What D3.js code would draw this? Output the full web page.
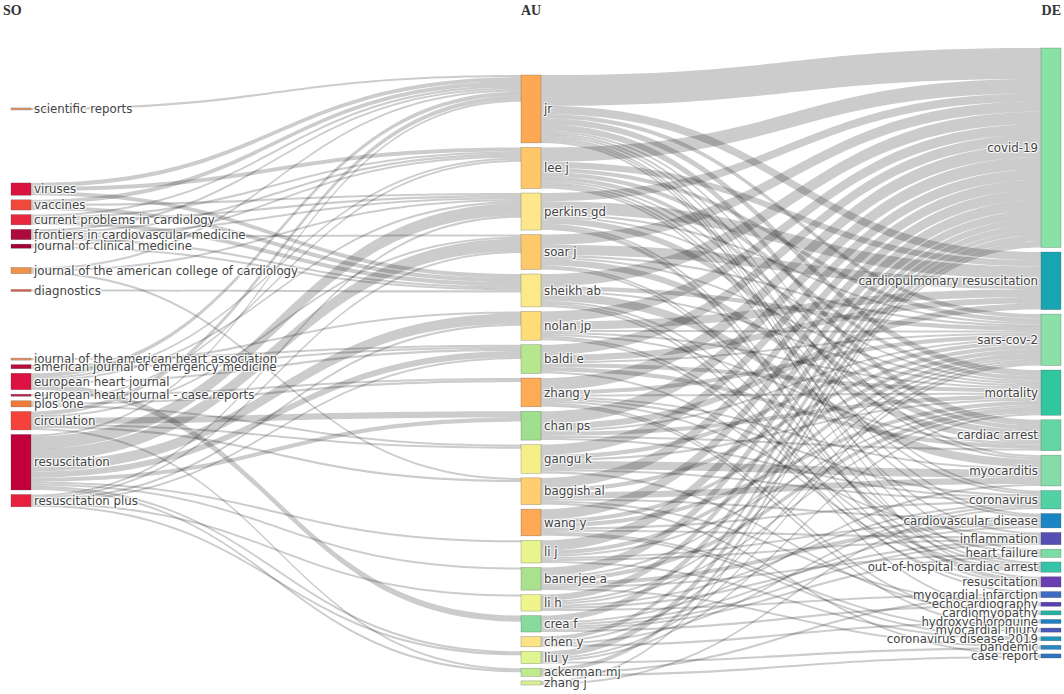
<!DOCTYPE html>
<html>
<head>
<meta charset="utf-8">
<script src="https://cdn.jsdelivr.net/npm/d3@7"></script>
<style>
  body { margin: 0; background: #fff; }
  .label {
    font-family: "DejaVu Sans", Verdana, sans-serif;
    font-size: 11.8px;
    fill: #444;
    text-shadow: 1px 1px 1px #fff, 1px -1px 1px #fff, -1px 1px 1px #fff, -1px -1px 1px #fff;
  }
  .field { font-family: "Liberation Serif", serif; font-weight: bold; font-size: 14px; fill: #333; }
</style>
</head>
<body>
<div id="chart"></div>
<script>
// three fields: sources (SO), authors (AU), keywords (DE)
var fields = ["SO", "AU", "DE"];

var soNames = ["scientific reports", "viruses", "vaccines", "current problems in cardiology",
  "frontiers in cardiovascular medicine", "journal of clinical medicine",
  "journal of the american college of cardiology", "diagnostics",
  "journal of the american heart association", "american journal of emergency medicine",
  "european heart journal", "european heart journal - case reports", "plos one",
  "circulation", "resuscitation", "resuscitation plus"];
var soColors = ["#e39a6b", "#d8143e", "#f1483c", "#e7293f", "#ad0b3c", "#a1003a", "#f0924e", "#d9614a",
  "#e8906a", "#b70f3c", "#db1242", "#b8214a", "#f07a3a", "#f5433c", "#c1003b", "#e8203f"];

var auNames = ["jr", "lee j", "perkins gd", "soar j", "sheikh ab", "nolan jp", "baldi e", "zhang y",
  "chan ps", "gangu k", "baggish al", "wang y", "li j", "banerjee a", "li h", "crea f", "chen y",
  "liu y", "ackerman mj", "zhang j"];
var auColors = ["#fea853", "#fec86a", "#fde78a", "#fec96b", "#fde98a", "#fedc78", "#b6e78c", "#fdac56",
  "#9fdf8e", "#f5ef88", "#fece70", "#fda955", "#e8f58e", "#a9e18e", "#eff48c", "#86db9c", "#fde385",
  "#dff590", "#c0ea8e", "#d7f192"];

var deNames = ["covid-19", "cardiopulmonary resuscitation", "sars-cov-2", "mortality", "cardiac arrest",
  "myocarditis", "coronavirus", "cardiovascular disease", "inflammation", "heart failure",
  "out-of-hospital cardiac arrest", "resuscitation", "myocardial infarction", "echocardiography",
  "cardiomyopathy", "hydroxychloroquine", "myocardial injury", "coronavirus disease 2019",
  "pandemic", "case report"];
var deColors = ["#88e1a5", "#17a5b1", "#8be0a7", "#2fc6a0", "#64d6a4", "#84dda8", "#52d2a4", "#1b84c4",
  "#5551b3", "#7bdca4", "#35c4a8", "#6a3db3", "#3d6cc2", "#5b3fb2", "#22b3a4", "#1c80c2", "#4757bc",
  "#1e97b8", "#2b86c4", "#2d74c2"];

// source -> author (estimated co-occurrence counts)
var soAuLinks = [
  ["scientific reports", "jr", 1],
  ["viruses", "sheikh ab", 2], ["viruses", "jr", 2], ["viruses", "lee j", 2],
  ["vaccines", "sheikh ab", 2], ["vaccines", "jr", 2], ["vaccines", "perkins gd", 1],
  ["current problems in cardiology", "sheikh ab", 2], ["current problems in cardiology", "perkins gd", 1],
  ["current problems in cardiology", "lee j", 1], ["current problems in cardiology", "jr", 1],
  ["frontiers in cardiovascular medicine", "sheikh ab", 1], ["frontiers in cardiovascular medicine", "jr", 1],
  ["frontiers in cardiovascular medicine", "lee j", 1], ["frontiers in cardiovascular medicine", "perkins gd", 1],
  ["frontiers in cardiovascular medicine", "soar j", 1],
  ["journal of clinical medicine", "sheikh ab", 1], ["journal of clinical medicine", "lee j", 1],
  ["journal of the american college of cardiology", "jr", 1],
  ["journal of the american college of cardiology", "perkins gd", 1],
  ["journal of the american college of cardiology", "baggish al", 1],
  ["diagnostics", "sheikh ab", 1],
  ["journal of the american heart association", "baldi e", 1],
  ["american journal of emergency medicine", "baldi e", 1], ["american journal of emergency medicine", "nolan jp", 1],
  ["european heart journal", "crea f", 3], ["european heart journal", "jr", 2], ["european heart journal", "lee j", 1],
  ["european heart journal", "baldi e", 1], ["european heart journal", "perkins gd", 1],
  ["european heart journal - case reports", "zhang y", 1],
  ["plos one", "lee j", 1], ["plos one", "zhang y", 1], ["plos one", "gangu k", 1],
  ["circulation", "chan ps", 3], ["circulation", "jr", 2], ["circulation", "soar j", 1],
  ["circulation", "gangu k", 1], ["circulation", "baggish al", 1], ["circulation", "ackerman mj", 1],
  ["resuscitation", "perkins gd", 6], ["resuscitation", "soar j", 6], ["resuscitation", "nolan jp", 5],
  ["resuscitation", "baldi e", 3], ["resuscitation", "chan ps", 2], ["resuscitation", "jr", 1],
  ["resuscitation", "banerjee a", 1], ["resuscitation", "li j", 1], ["resuscitation", "liu y", 1],
  ["resuscitation", "ackerman mj", 1],
  ["resuscitation plus", "baldi e", 1], ["resuscitation plus", "perkins gd", 1], ["resuscitation plus", "soar j", 1],
  ["resuscitation plus", "nolan jp", 1], ["resuscitation plus", "li h", 1], ["resuscitation plus", "liu y", 1]
];

// author -> keyword
var auDeLinks = [
  ["jr", "covid-19", 15], ["jr", "cardiopulmonary resuscitation", 4], ["jr", "cardiac arrest", 3],
  ["jr", "mortality", 3], ["jr", "sars-cov-2", 2], ["jr", "out-of-hospital cardiac arrest", 1],
  ["jr", "myocarditis", 1], ["jr", "resuscitation", 1], ["jr", "heart failure", 1],
  ["jr", "coronavirus", 1], ["jr", "cardiovascular disease", 1],
  ["lee j", "covid-19", 7], ["lee j", "sars-cov-2", 2], ["lee j", "cardiopulmonary resuscitation", 3],
  ["lee j", "mortality", 2], ["lee j", "cardiac arrest", 2], ["lee j", "myocarditis", 1],
  ["lee j", "coronavirus", 1], ["lee j", "cardiovascular disease", 1], ["lee j", "inflammation", 1],
  ["perkins gd", "cardiopulmonary resuscitation", 6], ["perkins gd", "covid-19", 4], ["perkins gd", "cardiac arrest", 3],
  ["perkins gd", "out-of-hospital cardiac arrest", 1], ["perkins gd", "resuscitation", 2],
  ["perkins gd", "mortality", 1], ["perkins gd", "sars-cov-2", 1],
  ["soar j", "cardiopulmonary resuscitation", 5], ["soar j", "covid-19", 5], ["soar j", "cardiac arrest", 3],
  ["soar j", "resuscitation", 1], ["soar j", "out-of-hospital cardiac arrest", 1], ["soar j", "mortality", 1],
  ["soar j", "sars-cov-2", 1],
  ["sheikh ab", "covid-19", 6], ["sheikh ab", "myocarditis", 4], ["sheikh ab", "sars-cov-2", 2],
  ["sheikh ab", "mortality", 1], ["sheikh ab", "heart failure", 1], ["sheikh ab", "myocardial infarction", 1],
  ["sheikh ab", "cardiomyopathy", 1],
  ["nolan jp", "cardiopulmonary resuscitation", 4], ["nolan jp", "covid-19", 5], ["nolan jp", "cardiac arrest", 1],
  ["nolan jp", "out-of-hospital cardiac arrest", 1], ["nolan jp", "resuscitation", 1], ["nolan jp", "mortality", 1],
  ["nolan jp", "sars-cov-2", 1],
  ["baldi e", "covid-19", 5], ["baldi e", "cardiac arrest", 2], ["baldi e", "cardiopulmonary resuscitation", 3],
  ["baldi e", "mortality", 2], ["baldi e", "sars-cov-2", 1], ["baldi e", "out-of-hospital cardiac arrest", 1],
  ["zhang y", "covid-19", 6], ["zhang y", "sars-cov-2", 2], ["zhang y", "myocarditis", 1], ["zhang y", "mortality", 1],
  ["zhang y", "inflammation", 1], ["zhang y", "coronavirus", 1], ["zhang y", "myocardial injury", 1],
  ["zhang y", "hydroxychloroquine", 1],
  ["chan ps", "covid-19", 6], ["chan ps", "cardiac arrest", 1], ["chan ps", "cardiopulmonary resuscitation", 3],
  ["chan ps", "mortality", 2], ["chan ps", "sars-cov-2", 1], ["chan ps", "coronavirus", 1],
  ["gangu k", "covid-19", 5], ["gangu k", "myocarditis", 4], ["gangu k", "sars-cov-2", 2], ["gangu k", "mortality", 1],
  ["gangu k", "coronavirus", 1], ["gangu k", "cardiomyopathy", 1],
  ["baggish al", "covid-19", 5], ["baggish al", "myocarditis", 3], ["baggish al", "sars-cov-2", 2],
  ["baggish al", "cardiovascular disease", 1], ["baggish al", "echocardiography", 1], ["baggish al", "case report", 1],
  ["wang y", "covid-19", 5], ["wang y", "sars-cov-2", 2], ["wang y", "mortality", 2], ["wang y", "coronavirus", 1],
  ["wang y", "inflammation", 1], ["wang y", "myocardial injury", 1], ["wang y", "coronavirus disease 2019", 1],
  ["li j", "covid-19", 5], ["li j", "sars-cov-2", 2], ["li j", "mortality", 1], ["li j", "inflammation", 1],
  ["li j", "cardiovascular disease", 1], ["li j", "coronavirus disease 2019", 1],
  ["banerjee a", "covid-19", 4], ["banerjee a", "mortality", 2], ["banerjee a", "cardiovascular disease", 2],
  ["banerjee a", "heart failure", 1], ["banerjee a", "sars-cov-2", 1], ["banerjee a", "pandemic", 1],
  ["li h", "covid-19", 3], ["li h", "sars-cov-2", 1], ["li h", "mortality", 1], ["li h", "coronavirus", 1],
  ["li h", "inflammation", 1], ["li h", "myocardial infarction", 1],
  ["crea f", "covid-19", 3], ["crea f", "myocarditis", 1], ["crea f", "cardiovascular disease", 1],
  ["crea f", "inflammation", 1], ["crea f", "heart failure", 1], ["crea f", "echocardiography", 1],
  ["chen y", "covid-19", 2], ["chen y", "sars-cov-2", 1], ["chen y", "coronavirus", 1], ["chen y", "hydroxychloroquine", 1],
  ["liu y", "covid-19", 3], ["liu y", "sars-cov-2", 1], ["liu y", "mortality", 1], ["liu y", "pandemic", 1],
  ["ackerman mj", "covid-19", 2], ["ackerman mj", "myocardial infarction", 1], ["ackerman mj", "case report", 1],
  ["zhang j", "covid-19", 1], ["zhang j", "coronavirus", 1]
];

var width = 1064, height = 694;
var nodeWidth = 20, nodePad = 4.5;
var plotTop = 48, plotBottom = 685, columnHeight = 610;
// how each column sits in the plot area
var columnAlign = {SO: "relax", AU: "bottom", DE: "top"};

var colX = d3.scaleOrdinal().domain(fields).range([11, 521, 1041]);

function makeNodes(field, names, colors) {
  return names.map(function(n, i) {
    return {id: field + "|" + n, name: n, field: field, color: colors[i], sourceLinks: [], targetLinks: []};
  });
}
var columns = {
  SO: makeNodes("SO", soNames, soColors),
  AU: makeNodes("AU", auNames, auColors),
  DE: makeNodes("DE", deNames, deColors)
};
var byId = {};
fields.forEach(function(f) { columns[f].forEach(function(n) { byId[n.id] = n; }); });

var links = [];
function addLinks(rows, sf, tf) {
  rows.forEach(function(r) {
    var l = {source: byId[sf + "|" + r[0]], target: byId[tf + "|" + r[1]], value: r[2]};
    l.source.sourceLinks.push(l);
    l.target.targetLinks.push(l);
    links.push(l);
  });
}
addLinks(soAuLinks, "SO", "AU");
addLinks(auDeLinks, "AU", "DE");

fields.forEach(function(f) {
  columns[f].forEach(function(n) {
    n.value = Math.max(d3.sum(n.sourceLinks, function(l) { return l.value; }),
                       d3.sum(n.targetLinks, function(l) { return l.value; }));
  });
});

var maxTotal = d3.max(fields, function(f) { return d3.sum(columns[f], function(n) { return n.value; }); });
var maxCount = d3.max(fields, function(f) { return columns[f].length; });
var hScale = d3.scaleLinear().domain([0, maxTotal]).range([0, columnHeight - (maxCount - 1) * nodePad]);

function stack(nodes, start) {
  var y = start;
  nodes.forEach(function(n) { n.y0 = y; n.y1 = y + hScale(n.value); y = n.y1 + nodePad; });
}
function center(n) { return (n.y0 + n.y1) / 2; }

fields.forEach(function(f) {
  var nodes = columns[f];
  nodes.forEach(function(n) { n.x0 = colX(f); n.x1 = n.x0 + nodeWidth; });
  var total = d3.sum(nodes, function(n) { return hScale(n.value); }) + (nodes.length - 1) * nodePad;
  if (columnAlign[f] === "top") stack(nodes, plotTop);
  if (columnAlign[f] === "bottom") stack(nodes, plotBottom - total);
});

// sources sit near the weighted centre of their authors, keeping their order
(function relaxSources() {
  var nodes = columns.SO, prev = plotTop - nodePad;
  nodes.forEach(function(n) {
    var want = d3.sum(n.sourceLinks, function(l) { return center(l.target) * l.value; }) /
               d3.sum(n.sourceLinks, function(l) { return l.value; });
    var h = hScale(n.value);
    n.y0 = Math.max(want - h / 2, prev + nodePad);
    n.y1 = n.y0 + h;
    prev = n.y1;
  });
  var over = nodes[nodes.length - 1].y1 - plotBottom;
  for (var i = nodes.length - 1; i >= 0 && over > 0; i--) {
    nodes[i].y0 -= over; nodes[i].y1 -= over;
    over = i > 0 ? nodes[i - 1].y1 + nodePad - nodes[i].y0 : 0;
  }
})();

// link attachment points
fields.forEach(function(f) {
  columns[f].forEach(function(n) {
    n.sourceLinks.sort(function(a, b) { return center(a.target) - center(b.target); });
    n.targetLinks.sort(function(a, b) { return center(a.source) - center(b.source); });
    var sy = n.y0, ty = n.y0;
    n.sourceLinks.forEach(function(l) { l.w = hScale(l.value); l.sy = sy + l.w / 2; sy += l.w; });
    n.targetLinks.forEach(function(l) { l.w = hScale(l.value); l.ty = ty + l.w / 2; ty += l.w; });
  });
});

function linkPath(l) {
  var x0 = l.source.x1, x1 = l.target.x0, xm = (x0 + x1) / 2, h = l.w / 2;
  return "M" + x0 + "," + (l.sy - h) +
    "C" + xm + "," + (l.sy - h) + " " + xm + "," + (l.ty - h) + " " + x1 + "," + (l.ty - h) +
    "L" + x1 + "," + (l.ty + h) +
    "C" + xm + "," + (l.ty + h) + " " + xm + "," + (l.sy + h) + " " + x0 + "," + (l.sy + h) + "Z";
}

var svg = d3.select("#chart").append("svg")
  .attr("width", width)
  .attr("height", height);

svg.append("g").selectAll("path")
  .data(links)
  .enter().append("path")
  .attr("d", linkPath)
  .style("fill", "rgba(0,0,0,0.2)");

var allNodes = [].concat(columns.SO, columns.AU, columns.DE);

var node = svg.append("g").selectAll("g")
  .data(allNodes)
  .enter().append("g");

node.append("rect")
  .attr("x", function(d) { return d.x0; })
  .attr("y", function(d) { return d.y0; })
  .attr("width", nodeWidth)
  .attr("height", function(d) { return Math.max(1, d.y1 - d.y0); })
  .style("fill", function(d) { return d.color; })
  .style("stroke", "rgba(68,68,68,0.5)")
  .style("stroke-width", 0.5);

node.append("text")
  .attr("class", "label")
  .attr("x", function(d) { return d.field === "DE" ? d.x0 - 3 : d.x1 + 3; })
  .attr("y", function(d) { return center(d); })
  .attr("dy", "0.35em")
  .style("text-anchor", function(d) { return d.field === "DE" ? "end" : "start"; })
  .text(function(d) { return d.name; });

// column titles
svg.selectAll(".field")
  .data(fields)
  .enter().append("text")
  .attr("class", "field")
  .attr("x", function(f, i) { return i === 0 ? colX(f) - 8 : (i === 2 ? colX(f) + nodeWidth : colX(f)); })
  .attr("y", 15)
  .style("text-anchor", function(f, i) { return i === 2 ? "end" : "start"; })
  .text(function(f) { return f; });
</script>
</body>
</html>
